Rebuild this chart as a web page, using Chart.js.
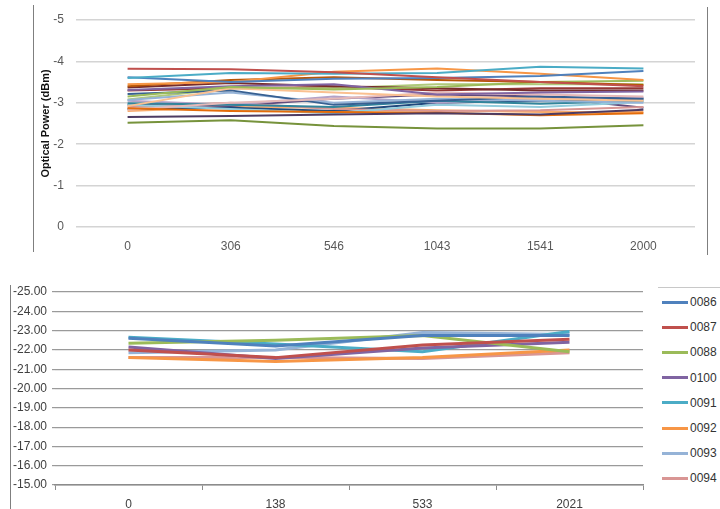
<!DOCTYPE html>
<html>
<head>
<meta charset="utf-8">
<script src="https://cdn.jsdelivr.net/npm/chart.js@4/dist/chart.umd.min.js"></script>
<style>
  html, body { margin: 0; padding: 0; background: #fff; overflow: hidden; }
  body { width: 720px; height: 509px; position: relative; font-family: "Liberation Sans", Arial, sans-serif; }
  .box { position: absolute; }
  .rule { position: absolute; background: #7f7f7f; width: 1px; }
  #legend { position: absolute; left: 658px; top: 287px; width: 62px; border-top: 1px solid #c8c8c8; }
  .item { position: absolute; left: 4px; height: 14px; display: flex; align-items: center; font-size: 12px; color: #333; }
  .item .swatch { width: 26px; height: 3px; margin-right: 2px; }
</style>
</head>
<body>
<div class="rule" style="left:33px; top:5px; height:247px;"></div>
<div class="rule" style="left:707px; top:7px; height:248px;"></div>
<div class="rule" style="left:10px; top:285px; height:224px;"></div>

<div class="box" style="left:34px; top:0px; width:672px; height:262px;"><canvas id="top"></canvas></div>
<div class="box" style="left:0px; top:270px; width:658px; height:239px;"><canvas id="bottom"></canvas></div>
<div id="legend"></div>

<script>
// Upper chart: optical power of every unit at each checkpoint
const topCategories = ['0', '306', '546', '1043', '1541', '2000'];
const topTicks = [-5, -4, -3, -2, -1, 0];
const topRuns = [
  [-3.82, -3.81, -3.74, -3.62, -3.50, -3.40],
  [-3.60, -3.72, -3.70, -3.72, -3.87, -3.83],
  [-3.62, -3.50, -3.58, -3.60, -3.65, -3.77],
  [-3.45, -3.50, -3.75, -3.83, -3.70, -3.55],
  [-3.40, -3.55, -3.62, -3.55, -3.50, -3.43],
  [-3.15, -3.38, -3.32, -3.38, -3.50, -3.53],
  [-2.52, -2.58, -2.44, -2.38, -2.38, -2.46],
  [-2.66, -2.68, -2.72, -2.75, -2.72, -2.83],
  [-3.31, -3.40, -3.45, -3.20, -3.25, -3.27],
  [-3.37, -3.48, -3.40, -3.35, -3.30, -3.30],
  [-2.87, -2.80, -2.78, -2.76, -2.70, -2.75],
  [-2.92, -3.35, -3.25, -3.15, -3.10, -3.05],
  [-2.83, -3.00, -3.10, -3.25, -3.20, -3.15],
  [-3.21, -3.30, -2.95, -3.05, -3.15, -3.10],
  [-3.07, -3.25, -3.00, -3.10, -3.05, -3.00],
  [-2.99, -2.95, -2.90, -3.05, -2.98, -3.05],
  [-3.05, -2.95, -3.15, -3.00, -3.10, -3.12],
  [-2.95, -2.85, -2.75, -2.95, -2.90, -3.02],
  [-2.90, -3.00, -2.85, -2.80, -2.82, -2.90],
  [-2.85, -2.88, -2.80, -3.00, -3.05, -3.10],
  [-3.08, -3.35, -3.35, -3.45, -3.45, -3.45],
  [-2.95, -2.92, -3.10, -3.20, -3.15, -2.88],
  [-2.80, -2.90, -2.88, -2.82, -2.78, -2.78],
  [-3.30, -3.35, -3.38, -3.30, -3.35, -3.35]
];

// Lower chart: received power per unit
const bottomCategories = ['0', '138', '533', '2021'];
const unitNames = ['0086', '0087', '0088', '0100', '0091', '0092', '0093', '0094'];
const unit0086 = [-22.60, -22.20, -22.75, -22.75];
const unit0087 = [-22.00, -21.60, -22.25, -22.55];
const unit0088 = [-22.35, -22.50, -22.75, -21.90];
const unit0100 = [-22.15, -21.55, -22.10, -22.40];
const unit0091 = [-22.65, -22.30, -21.90, -22.95];
const unit0092 = [-21.60, -21.40, -21.60, -22.00];
const unit0093 = [-21.85, -22.00, -22.90, -22.80];
const unit0094 = [-21.60, -21.60, -21.55, -21.85];
const bottomSeries = [unit0086, unit0087, unit0088, unit0100, unit0091, unit0092, unit0093, unit0094];

const topPalette = ['#C0504D','#4BACC6','#4F81BD','#F79646','#B65708','#9BBB59','#77933C','#4D3B62',
  '#8064A2','#772C2A','#E46C0A','#FAC090','#E6B9B8','#376092','#95B3D7','#31859C','#B3A2C7',
  '#93CDDD','#D99694','#1F497D','#AFC97A','#604A7B','#F9AB6B','#953735'];
const bottomPalette = ['#4F81BD','#C0504D','#9BBB59','#8064A2','#4BACC6','#F79646','#95B3D7','#D99694'];

const FONT = '"Liberation Sans", Arial, sans-serif';

new Chart(document.getElementById('top'), {
  type: 'line',
  data: {
    labels: topCategories,
    datasets: topRuns.map((vals, i) => ({
      label: 'run ' + (i + 1),
      data: vals,
      borderColor: topPalette[i % topPalette.length],
      borderWidth: 2,
      pointRadius: 0,
      tension: 0,
      fill: false
    }))
  },
  options: {
    responsive: true,
    maintainAspectRatio: false,
    animation: false,
    layout: { padding: { top: 20, right: 11, left: 0, bottom: 0 } },
    plugins: { legend: { display: false }, tooltip: { enabled: false } },
    scales: {
      x: {
        offset: true,
        grid: { display: false, drawTicks: false },
        border: { display: false },
        ticks: { padding: 12, color: '#595959', font: { family: FONT, size: 12 }, maxRotation: 0 },
        afterFit: s => { s.height = 35; }
      },
      y: {
        reverse: true,
        min: topTicks[0],
        max: topTicks[topTicks.length - 1],
        afterBuildTicks: s => { s.ticks = topTicks.map(v => ({ value: v })); },
        grid: { color: '#d4d4d4', lineWidth: 1.5, drawTicks: false },
        border: { display: false },
        ticks: { padding: 12, color: '#595959', font: { family: FONT, size: 12 } },
        title: { display: true, text: 'Optical Power (dBm)', color: '#111', font: { family: FONT, size: 11, weight: 'bold' }, padding: { top: 5, bottom: 0 } },
        afterFit: s => { s.width = 42; }
      }
    }
  }
});

new Chart(document.getElementById('bottom'), {
  type: 'line',
  data: {
    labels: bottomCategories,
    datasets: bottomSeries.map((vals, i) => ({
      label: unitNames[i],
      data: vals,
      borderColor: bottomPalette[i],
      borderWidth: 3,
      pointRadius: 0,
      tension: 0,
      fill: false
    }))
  },
  options: {
    responsive: true,
    maintainAspectRatio: false,
    animation: false,
    layout: { padding: { top: 22, right: 15, left: 0, bottom: 0 } },
    plugins: { legend: { display: false }, tooltip: { enabled: false } },
    scales: {
      x: {
        offset: true,
        grid: { offset: true, drawOnChartArea: false, color: '#8c8c8c', tickLength: 5 },
        border: { display: true, color: '#8c8c8c', width: 1.5 },
        ticks: { padding: 7, color: '#404040', font: { family: FONT, size: 12 }, maxRotation: 0 },
        afterFit: s => { s.height = 24; }
      },
      y: {
        reverse: true,
        min: -25,
        max: -15,
        ticks: { stepSize: 1, padding: 5, color: '#404040', font: { family: FONT, size: 12 },
                 callback: v => Number(v).toFixed(2) },
        grid: { color: '#9a9a9a', lineWidth: 1.2, tickLength: 3 },
        border: { display: false },
        afterFit: s => { s.width = 55; }
      }
    }
  }
});

// Legend for the lower chart, built from the series names and colours
const legend = document.getElementById('legend');
unitNames.forEach((name, i) => {
  const row = document.createElement('div');
  row.className = 'item';
  row.style.top = (7 + i * 25.2) + 'px';
  const sw = document.createElement('span');
  sw.className = 'swatch';
  sw.style.background = bottomPalette[i];
  const tx = document.createElement('span');
  tx.textContent = name;
  row.appendChild(sw);
  row.appendChild(tx);
  legend.appendChild(row);
});
</script>
</body>
</html>
